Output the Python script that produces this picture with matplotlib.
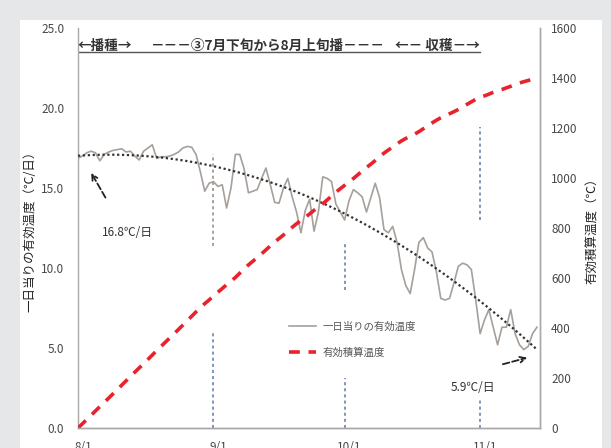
import numpy as np
import matplotlib
matplotlib.use("Agg")
import matplotlib.pyplot as plt
from matplotlib.patches import Rectangle
from matplotlib.transforms import ScaledTranslation

plt.rcParams['font.family'] = ['Noto Sans CJK JP', 'DejaVu Sans']

# daily effective temperature (degC/day), day 0 = 8/1
daily_temp = [
    16.85, 17.0, 17.2, 17.3, 17.2, 16.7, 17.1, 17.25, 17.35, 17.4,
    17.45, 17.25, 17.3, 17.0, 16.75, 17.3, 17.5, 17.7, 16.85, 16.95,
    16.95, 17.0, 17.1, 17.25, 17.5, 17.6, 17.55, 17.1, 16.0, 14.8,
    15.3, 15.4, 15.1, 15.2, 13.75, 15.0, 17.1, 17.1, 16.2, 14.7,
    14.8, 14.9, 15.6, 16.25, 15.2, 14.1, 14.05, 15.0, 15.6, 14.45,
    13.5, 12.2, 13.6, 14.3, 12.3, 13.5, 15.7, 15.6, 15.4, 14.0,
    13.5, 13.0, 14.2, 14.9, 14.7, 14.45, 13.5, 14.4, 15.3, 14.4,
    12.4, 12.2, 12.6, 11.6, 9.9, 8.9, 8.4, 9.9, 11.6, 11.9,
    11.25, 11.0, 9.75, 8.1, 8.0, 8.1, 9.05, 10.1, 10.3, 10.2,
    9.9, 8.0, 5.9, 6.75, 7.4, 6.3, 5.2, 6.3, 6.3, 7.4,
    5.9, 5.2, 4.9, 5.1, 5.9, 6.3,
]
days = np.arange(len(daily_temp))

month_ticks = [0, 31, 61, 92]
month_labels = ['8/1', '9/1', '10/1', '11/1']

# vertical guide segments: (day, y from, y to) on left axis
guide_segments = [
    (31, 11.4, 17.1, '#8a8a8a'),
    (31, 0.0, 6.0, '#5b78a8'),
    (61, 8.6, 11.6, '#5b78a8'),
    (61, 0.0, 3.1, '#5b78a8'),
    (92, 13.0, 18.8, '#5b78a8'),
    (92, 0.0, 1.9, '#5b78a8'),
]

temp = np.array(daily_temp)
cum_temp = np.concatenate(([0.0], np.cumsum(temp)[:-1]))
trend = np.polyval(np.polyfit(days, temp, 2), days)

fig = plt.figure(figsize=(6.11, 4.48), dpi=100)
fig.patch.set_facecolor('#e6e7e9')
bg = Rectangle((20 / 611, 0), 582 / 611, 428 / 448, transform=fig.transFigure,
               facecolor='white', edgecolor='none', zorder=-5)
fig.add_artist(bg)

ax = fig.add_axes([78 / 611, 20 / 448, 462 / 611, 400 / 448])
ax.set_facecolor('none')
ax2 = ax.twinx()
ax2.set_facecolor('none')

for d, y0, y1, c in guide_segments:
    ax.plot([d, d], [y0, y1], color=c, lw=1.1, ls=(0, (2, 2)), zorder=1)

l1, = ax.plot(days, temp, color='#a69f9a', lw=1.2, label='一日当りの有効温度', zorder=3)
ax.plot(days, trend, color='#333333', lw=1.6, ls=(0, (1, 1.2)), zorder=4)
l2, = ax2.plot(days, cum_temp, color='#e8232c', lw=2.6, ls=(0, (3.0, 2.4)),
               label='有効積算温度')

ax.set_xlim(0, 105.7)
ax.set_ylim(0, 25)
ax2.set_ylim(0, 1600)
ax.set_yticks(np.arange(0, 26, 5))
ax.set_yticklabels([f'{v:.1f}' for v in np.arange(0, 26, 5)])
ax2.set_yticks(np.arange(0, 1601, 200))
ax.set_xticks(month_ticks)
ax.set_xticklabels(month_labels)

for a in (ax, ax2):
    a.tick_params(length=0, labelsize=8.5, labelcolor='#484848')
    for s in a.spines.values():
        s.set_color('#a8a8a8')
        s.set_linewidth(1.0)
    a.spines['top'].set_visible(False)
ax.tick_params(axis='y', pad=10)
ax.tick_params(axis='x', pad=9)
ax2.tick_params(axis='y', pad=8)
ax2.spines['left'].set_visible(False)
shift = ScaledTranslation(0.05, 0, fig.dpi_scale_trans)
for lbl in ax.get_xticklabels():
    lbl.set_transform(lbl.get_transform() + shift)

ax.set_ylabel('一日当りの有効温度（℃/日）', fontsize=9, color='#222222')
ax.yaxis.set_label_coords(-0.089, 0.5)
ax2.set_ylabel('有効積算温度（℃）', fontsize=9, color='#222222')
ax2.yaxis.set_label_coords(1.099, 0.5)

# header text with underline
hdr = dict(fontsize=9.8, fontweight='bold', color='#333333', va='center')
ax.text(0, 23.9, '←播種→', ha='left', **hdr)
ax.text(43.3, 23.9, '－－－③7月下旬から8月上旬播－－－', ha='center', **hdr)
ax.text(92, 23.9, '←－ 収穫－→', ha='right', **hdr)
ax.plot([0, 92], [23.5, 23.5], color='#555555', lw=1.0)

# annotations
ax.text(11.2, 12.25, '16.8℃/日', fontsize=8.5, color='#333333', ha='center', va='center')
ax.annotate('', xy=(2.7, 16.1), xytext=(6.6, 14.25),
            arrowprops=dict(arrowstyle='->', color='#222222', lw=1.3, ls='--'))
ax.text(90.4, 2.56, '5.9℃/日', fontsize=8.5, color='#333333', ha='center', va='center')
ax.annotate('', xy=(103.4, 4.44), xytext=(96.6, 3.94),
            arrowprops=dict(arrowstyle='->', color='#222222', lw=1.3, ls='--'))

ax.legend(handles=[l1, l2], loc='upper left', bbox_to_anchor=(202 / 462, 0.29),
          frameon=False, fontsize=7.5, labelcolor='#555555', handlelength=2.6,
          labelspacing=1.5, handletextpad=0.6)

fig.savefig('out.png', dpi=100, facecolor=fig.get_facecolor())
